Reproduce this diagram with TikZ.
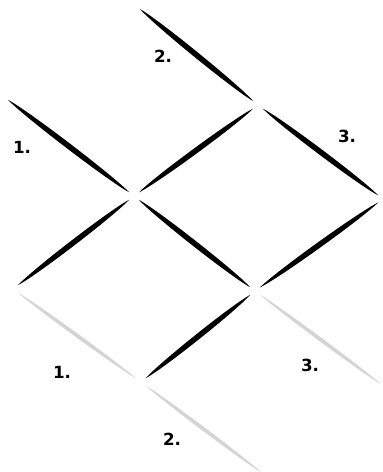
\documentclass[tikz,border=0pt]{standalone}
\usepackage{fontspec}
\setmainfont{DejaVu Sans}
\usetikzlibrary{calc}
\definecolor{lightline}{RGB}{212,212,212}

% tapered stroke between two coordinates: [colour]{from}{to}{half width}
\newcommand{\stroke}[4][black]{%
  \path ($(#2)!3.5pt!(#3)$) coordinate (sa) ($(#3)!3.5pt!(#2)$) coordinate (sb);
  \fill[#1] (sa) .. controls ($(sa)!0.15!(sb)!#4!90:(sb)$) and ($(sa)!0.85!(sb)!#4!90:(sb)$) .. (sb)
    .. controls ($(sa)!0.85!(sb)!#4!-90:(sb)$) and ($(sa)!0.15!(sb)!#4!-90:(sb)$) .. (sa) -- cycle;}

\tikzset{num/.style={font=\fontsize{9.5}{10}\selectfont\bfseries, inner sep=0pt}}

\begin{document}
\begin{tikzpicture}[x=0.02cm, y=-0.02cm]
  \useasboundingbox (0,0) rectangle (382,472);

  % Lattice points
  \coordinate (topend) at (135,5);
  \coordinate (leftend) at (3,96);
  \coordinate (t) at (258,105);
  \coordinate (l) at (134,196);
  \coordinate (r) at (383,199);
  \coordinate (bl) at (13,289);
  \coordinate (m) at (255,291);
  \coordinate (b) at (141,382);
  \coordinate (lowend) at (266,476);
  \coordinate (rightend) at (386,388);

  % Dark strokes
  \stroke{topend}{t}{2.1pt}
  \stroke{leftend}{l}{2.1pt}
  \stroke{l}{t}{2.1pt}
  \stroke{t}{r}{2.1pt}
  \stroke{bl}{l}{2.1pt}
  \stroke{l}{m}{2.1pt}
  \stroke{m}{r}{2.1pt}
  \stroke{b}{m}{2.1pt}

  % Light strokes
  \stroke[lightline]{bl}{b}{1.4pt}
  \stroke[lightline]{b}{lowend}{1.4pt}
  \stroke[lightline]{m}{rightend}{1.4pt}

  % Labels
  \node[num] (top2) at (163,56) {2.};
  \node[num] (top1) at (22,147) {1.};
  \node[num] (top3) at (347,136) {3.};
  \node[num] (low1) at (62,372) {1.};
  \node[num] (low3) at (310,365) {3.};
  \node[num] (low2) at (172,439) {2.};
\end{tikzpicture}
\end{document}
